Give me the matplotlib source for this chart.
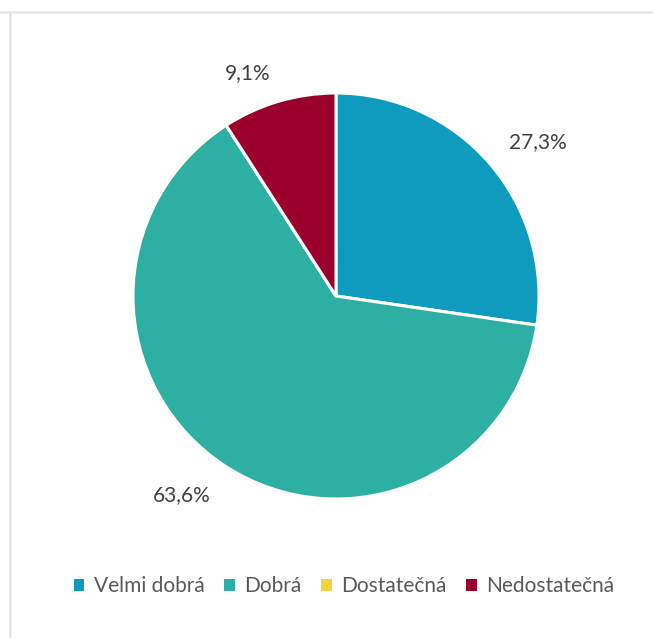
import numpy as np
import matplotlib.pyplot as plt
from matplotlib.lines import Line2D
from matplotlib.patches import Patch

plt.rcParams['font.family'] = ['Lato', 'DejaVu Sans']

# data
categories = ['Velmi dobrá', 'Dobrá', 'Dostatečná', 'Nedostatečná']
values = [27.3, 63.6, 0.0, 9.1]
value_labels = ['27,3%', '63,6%', '', '9,1%']
colors = ['#0f9bbd', '#2eafa4', '#f5d33f', '#9b002c']

# label placement (radius, angle shift in degrees), Excel "best fit" look
label_pos = [(1.25, -3.5), (1.24, -5.0), (1.2, 0.0), (1.18, 5.3)]

fig = plt.figure(figsize=(6.53, 6.38), dpi=100)

# frame lines of the chart area
fig.add_artist(Line2D([0, 1], [1 - 11.5 / 638] * 2, color='#e4e4e4', lw=1.8))
fig.add_artist(Line2D([10 / 653] * 2, [0, 1 - 11.5 / 638], color='#e4e4e4', lw=1.8))

cx, cy, r = 336, 638 - 296, 203
ax = fig.add_axes([(cx - r) / 653, (cy - r) / 638, 2 * r / 653, 2 * r / 638])
wedges, _ = ax.pie(values, colors=colors, startangle=90, counterclock=False,
                   wedgeprops={'edgecolor': 'white', 'linewidth': 2.2})
ax.set_aspect('equal')
ax.set_xlim(-1, 1)
ax.set_ylim(-1, 1)
ax.axis('off')

for w, lab, (rad, shift) in zip(wedges, value_labels, label_pos):
    if not lab:
        continue
    ang = np.deg2rad((w.theta1 + w.theta2) / 2 + shift)
    ax.text(rad * np.cos(ang), rad * np.sin(ang), lab, ha='center', va='center',
            fontsize=15, color='#404040', clip_on=False)

handles = [Patch(facecolor=c, edgecolor='none') for c in colors]
fig.legend(handles, categories, ncol=4, frameon=False, loc='center',
           bbox_to_anchor=(344 / 653, 1 - 586 / 638), fontsize=15,
           handlelength=0.5, handleheight=0.5, handletextpad=0.45,
           columnspacing=0.95, labelcolor='#595959')

fig.savefig('out.png', dpi=100)
